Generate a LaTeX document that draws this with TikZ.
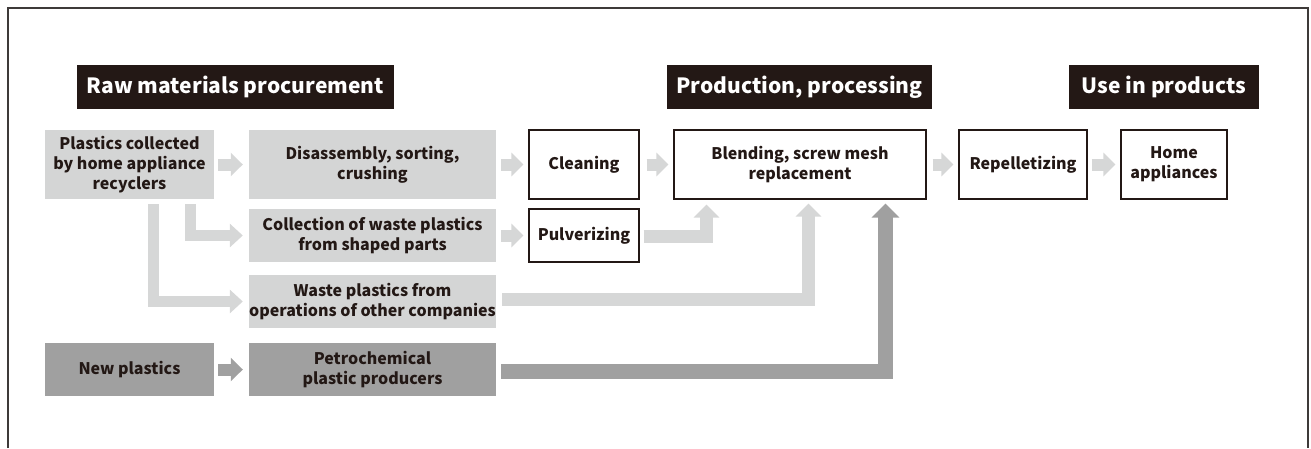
\documentclass[tikz,border=0pt]{standalone}
\usepackage{fontspec}
\setmainfont{Noto Sans CJK JP}
\usetikzlibrary{arrows.meta}
\definecolor{ink}{HTML}{231815}
\definecolor{lg}{HTML}{D4D5D5}
\definecolor{lga}{HTML}{D6D7D7}
\definecolor{dg}{HTML}{A0A0A0}
\definecolor{frame}{HTML}{3E3A39}
\begin{document}
\begin{tikzpicture}[x=1pt,y=-1pt,
  txt/.style={align=center,text=ink,font=\fontsize{16}{20}\selectfont\bfseries,inner sep=0pt},
  lbox/.style={txt,fill=lg},
  dbox/.style={txt,fill=dg},
  wbox/.style={txt,fill=white,draw=ink,line width=1.1pt},
  hdr/.style={fill=ink,text=white,font=\fontsize{21}{25}\selectfont\bfseries,inner sep=0pt,minimum height=44pt},
  arrs/.style={draw=lga,line width=12pt,line cap=butt,-{Triangle[width=23pt,length=12pt]}},
  arrsd/.style={draw=dg,line width=12pt,line cap=butt,-{Triangle[width=23pt,length=12pt]}},
  arrb/.style={draw=lga,line width=11pt,line cap=butt,line join=miter,-{Triangle[width=23pt,length=13pt]}},
  arru/.style={draw=lga,line width=13pt,line cap=butt,line join=miter,-{Triangle[width=25pt,length=13pt]}},
  arrud/.style={draw=dg,line width=15pt,line cap=butt,line join=miter,-{Triangle[width=27pt,length=14pt]}}
]
\useasboundingbox (0,0) rectangle (1311,448);
\draw[frame,line width=1.5pt] (8,448) -- (8,8) -- (1308,8) -- (1308,448);

% headers
\node[hdr,minimum width=317pt] (h1) at (235.5,87) {Raw materials procurement};
\node[hdr,minimum width=265pt] (h2) at (799.5,87) {Production, processing};
\node[hdr,minimum width=190pt] (h3) at (1164,87) {Use in products};

% row 1
\node[lbox,minimum width=169pt,minimum height=69pt] (plast) at (129.5,164.5) {Plastics collected\\by home appliance\\recyclers};
\node[lbox,minimum width=247pt,minimum height=69pt] (disas) at (372.5,164.5) {Disassembly, sorting,\\crushing};
\node[wbox,minimum width=110pt,minimum height=69pt] (clean) at (584,164.5) {Cleaning};
\node[wbox,minimum width=252pt,minimum height=69pt] (blend) at (800,164.5) {Blending, screw mesh\\replacement};
\node[wbox,minimum width=128pt,minimum height=69pt] (repel) at (1023,164.5) {Repelletizing};
\node[wbox,minimum width=106pt,minimum height=69pt] (home) at (1174,164.5) {Home\\appliances};

% row 2-4
\node[lbox,minimum width=247pt,minimum height=53pt] (collect) at (372.5,235.5) {Collection of waste plastics\\from shaped parts};
\node[wbox,minimum width=110pt,minimum height=53pt] (pulv) at (584,235.5) {Pulverizing};
\node[lbox,minimum width=247pt,minimum height=53pt] (waste) at (372.5,301.5) {Waste plastics from\\operations of other companies};
\node[dbox,minimum width=169pt,minimum height=53pt] (newp) at (129.5,369.5) {New plastics};
\node[dbox,minimum width=247pt,minimum height=53pt] (petro) at (372.5,369.5) {Petrochemical\\plastic producers};

% horizontal small arrows
\draw[arrs] ([xshift=4pt]plast.east) -- ([xshift=-6pt]disas.west);
\draw[arrs] ([xshift=5pt]disas.east) -- ([xshift=-5pt]clean.west);
\draw[arrs] ([xshift=7pt]clean.east) -- ([xshift=-5pt]blend.west);
\draw[arrs] ([xshift=6pt]blend.east) -- ([xshift=-5pt]repel.west);
\draw[arrs] ([xshift=4pt]repel.east) -- ([xshift=-5pt]home.west);
\draw[arrs] ([xshift=5pt]collect.east) -- ([xshift=-5pt]pulv.west);
\draw[arrsd] ([xshift=4pt]newp.east) -- ([xshift=-6pt]petro.west);

% branch arrows from plastics collected
\draw[arrb] ([xshift=146pt,yshift=-5pt]plast.south west) |- ([xshift=-6pt]collect.west);
\draw[arrb] ([xshift=109pt,yshift=-5pt]plast.south west) |- ([xshift=-6pt]waste.west);

% arrows up into blending
\draw[arru] ([xshift=4pt,yshift=-1pt]pulv.east) -| ([xshift=33pt,yshift=-5pt]blend.south west);
\draw[arru] ([xshift=6pt,yshift=2pt]waste.east) -| ([xshift=135pt,yshift=-4pt]blend.south west);
\draw[arrud] ([xshift=5pt,yshift=-1.5pt]petro.east) -| ([xshift=212pt,yshift=-4pt]blend.south west);
\end{tikzpicture}
\end{document}
